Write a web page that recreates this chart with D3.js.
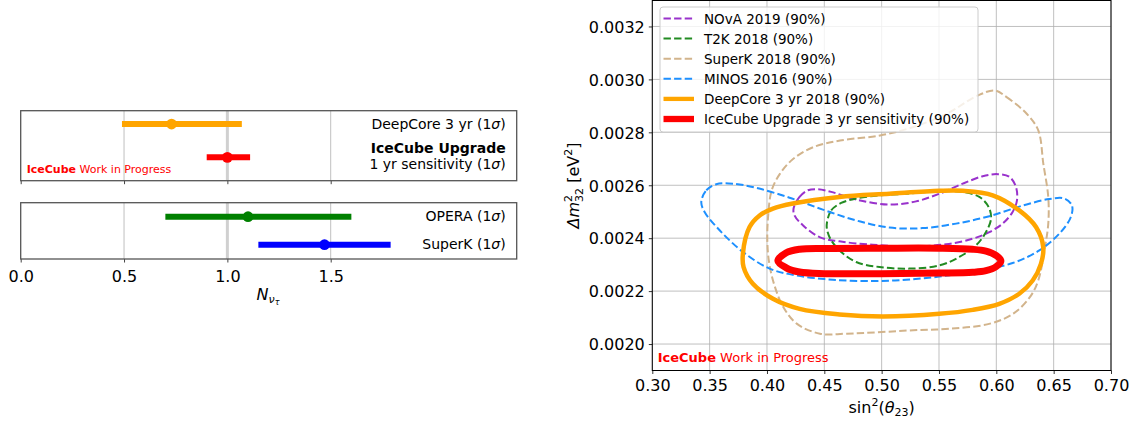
<!DOCTYPE html>
<html>
<head>
<meta charset="utf-8">
<script src="https://cdn.jsdelivr.net/npm/d3@7"></script>
<style>
  body { margin: 0; background: #fff; }
  svg { font-family: "DejaVu Sans", sans-serif; }
</style>
</head>
<body>
<svg id="chart" width="1142" height="423"></svg>
<script>
// ---- left panel : N_nutau measurements (1 sigma)
var nutauPanel   = [0, 0, 1, 1];                 // 0 = top box, 1 = bottom box
var nutauRow     = [0, 1, 0, 1];
var nutauCentral = [0.73, 1.00, 1.10, 1.47];
var nutauLow     = [0.49, 0.90, 0.70, 1.15];
var nutauHigh    = [1.07, 1.11, 1.60, 1.79];
var nutauColors  = ["#ffa500", "#ff0000", "#008000", "#0000ff"];
var nutauTicks   = [0, 0.5, 1.0, 1.5];

// ---- right panel : 90% contours, [sin^2(theta23), dm^2_32]
var nova = [[0.4232,0.002512],[0.4284,0.002556],[0.4357,0.002581],[0.4444,0.002585],[0.4560,0.002575],
  [0.4778,0.002546],[0.5068,0.002527],[0.5300,0.002539],[0.5503,0.002568],[0.5707,0.002606],
  [0.5881,0.002634],[0.6012,0.002642],[0.6113,0.002632],[0.6171,0.002594],[0.6180,0.002543],
  [0.6142,0.002499],[0.6055,0.002455],[0.5939,0.002423],[0.5794,0.002398],[0.5562,0.002377],
  [0.5271,0.002369],[0.4923,0.002375],[0.4632,0.002388],[0.4458,0.002404],[0.4313,0.002449],[0.4240,0.002486]];
var t2k = [[0.4522,0.002455],[0.4560,0.002505],[0.4647,0.002533],[0.4778,0.002550],[0.4981,0.002562],
  [0.5213,0.002568],[0.5503,0.002577],[0.5707,0.002575],[0.5852,0.002556],[0.5933,0.002518],
  [0.5954,0.002474],[0.5910,0.002423],[0.5823,0.002373],[0.5678,0.002329],[0.5503,0.002297],
  [0.5242,0.002285],[0.4981,0.002291],[0.4778,0.002310],[0.4647,0.002348],[0.4560,0.002392],[0.4525,0.002430]];
var superk = [[0.5988,0.002958],[0.6090,0.002933],[0.6265,0.002870],[0.6366,0.002807],[0.6410,0.002681],
  [0.6453,0.002555],[0.6453,0.002455],[0.6424,0.002366],[0.6366,0.002241],[0.6294,0.002178],
  [0.6148,0.002115],[0.5945,0.002077],[0.5596,0.002058],[0.5276,0.002052],[0.4695,0.002039],
  [0.4462,0.002039],[0.4259,0.002077],[0.4142,0.002140],[0.4070,0.002215],[0.4020,0.002304],
  [0.4003,0.002392],[0.4012,0.002493],[0.4041,0.002581],[0.4114,0.002644],[0.4230,0.002700],
  [0.4404,0.002744],[0.4637,0.002769],[0.4986,0.002788],[0.5276,0.002820],[0.5567,0.002870],[0.5838,0.002939]];
var minos = [[0.3427,0.002537],[0.3471,0.002581],[0.3558,0.002604],[0.3703,0.002606],[0.3907,0.002590],
  [0.4197,0.002553],[0.4487,0.002508],[0.4778,0.002467],[0.5068,0.002440],[0.5358,0.002438],
  [0.5649,0.002455],[0.5939,0.002483],[0.6229,0.002523],[0.6462,0.002548],[0.6592,0.002550],
  [0.6659,0.002524],[0.6650,0.002480],[0.6549,0.002417],[0.6375,0.002354],[0.6142,0.002306],
  [0.5794,0.002274],[0.5503,0.002255],[0.5213,0.002243],[0.4923,0.002238],[0.4574,0.002243],
  [0.4255,0.002259],[0.4023,0.002285],[0.3790,0.002348],[0.3587,0.002430],[0.3456,0.002499]];
var deepcore = [[0.3790,0.002341],[0.3848,0.002442],[0.3936,0.002486],[0.4052,0.002512],[0.4226,0.002531],
  [0.4632,0.002556],[0.5068,0.002568],[0.5503,0.002579],[0.5707,0.002579],[0.5968,0.002562],
  [0.6200,0.002505],[0.6346,0.002442],[0.6409,0.002367],[0.6389,0.002303],[0.6317,0.002240],
  [0.6200,0.002190],[0.6026,0.002152],[0.5794,0.002129],[0.5503,0.002114],[0.5010,0.002104],
  [0.4632,0.002112],[0.4284,0.002133],[0.4052,0.002171],[0.3877,0.002228],[0.3796,0.002291]];
var upgrade = [[0.4095,0.002314],[0.4168,0.002345],[0.4284,0.002358],[0.4500,0.002361],[0.5000,0.002362],
  [0.5500,0.002362],[0.5794,0.002358],[0.5910,0.002351],[0.5997,0.002335],[0.6040,0.002314],
  [0.5997,0.002292],[0.5910,0.002277],[0.5794,0.002271],[0.5500,0.002268],[0.5000,0.002266],
  [0.4500,0.002266],[0.4284,0.002272],[0.4168,0.002288]];

var contourNames  = ["NOvA 2019 (90%)", "T2K 2018 (90%)", "SuperK 2018 (90%)", "MINOS 2016 (90%)",
                     "DeepCore 3 yr 2018 (90%)", "IceCube Upgrade 3 yr sensitivity (90%)"];
var contourData   = [nova, t2k, superk, minos, deepcore, upgrade];
var contourColors = ["#9932cc", "#228b22", "#d2b48c", "#1e90ff", "#ffa500", "#ff0000"];
var contourDashed = [true, true, true, true, false, false];
var contourWidth  = [2, 2, 2, 2, 4.5, 7];
var legendWidth   = [2, 2, 2, 2, 4.3, 6.3];
var s2Ticks = [0.30, 0.35, 0.40, 0.45, 0.50, 0.55, 0.60, 0.65, 0.70];
var dmTicks = [0.0020, 0.0022, 0.0024, 0.0026, 0.0028, 0.0030, 0.0032];

var svg = d3.select("#chart");

// ================= left panel =================
var xL = d3.scaleLinear().domain([0, 2.4]).range([20.7, 516.7]);
var boxes = [
  { top: 110.7, bottom: 180.7, y: d3.scaleLinear().domain([-0.4, 1.7]).range([110.7, 180.7]) },
  { top: 202.7, bottom: 259,   y: d3.scaleLinear().domain([-0.5, 1.51]).range([202.7, 259]) }
];

boxes.forEach(function (b, bi) {
  var g = svg.append("g");
  // grid
  g.selectAll("line.grid").data(nutauTicks.slice(1)).enter().append("line")
    .attr("x1", d => xL(d)).attr("x2", d => xL(d))
    .attr("y1", b.top).attr("y2", b.bottom)
    .attr("stroke", "#b0b0b0").attr("stroke-width", 0.8);
  // reference line at 1
  g.append("line")
    .attr("x1", xL(1)).attr("x2", xL(1)).attr("y1", b.top).attr("y2", b.bottom)
    .attr("stroke", "#d0d0d0").attr("stroke-width", 3);

  var ax = d3.axisBottom(xL).tickValues(nutauTicks).tickSize(3.5).tickPadding(4)
    .tickFormat(bi === 1 ? d3.format(".1f") : "");
  var ag = g.append("g").attr("transform", "translate(0," + b.bottom + ")").call(ax);
  ag.select(".domain").remove();
  ag.selectAll("line").attr("stroke", "#444").attr("stroke-width", 1);
  ag.selectAll("text").attr("font-size", 16).attr("fill", "#000")
    .attr("font-family", "DejaVu Sans").attr("dy", null).attr("y", 23);

  g.append("rect")
    .attr("x", xL(0)).attr("y", b.top).attr("width", xL(2.4) - xL(0)).attr("height", b.bottom - b.top)
    .attr("fill", "none").attr("stroke", "#555").attr("stroke-width", 1.3);
});

// error bars
nutauCentral.forEach(function (c, i) {
  var yy = boxes[nutauPanel[i]].y(nutauRow[i]);
  svg.append("line")
    .attr("x1", xL(nutauLow[i])).attr("x2", xL(nutauHigh[i]))
    .attr("y1", yy).attr("y2", yy)
    .attr("stroke", nutauColors[i]).attr("stroke-width", 6);
  svg.append("circle").attr("cx", xL(c)).attr("cy", yy).attr("r", 5.4).attr("fill", nutauColors[i]);
});

// labels on the right of each box
function sigmaLabel(sel, name) {
  sel.append("tspan").text(name + " (1");
  sel.append("tspan").attr("font-style", "italic").text("σ");
  sel.append("tspan").text(")");
}
var labX = 505.7;
var t;
t = svg.append("text").attr("x", labX).attr("y", boxes[0].y(0) + 4.5)
  .attr("text-anchor", "end").attr("font-size", 14);
sigmaLabel(t, "DeepCore 3 yr");
svg.append("text").attr("x", labX).attr("y", boxes[0].y(1) - 4)
  .attr("text-anchor", "end").attr("font-size", 14).attr("font-weight", "bold")
  .text("IceCube Upgrade");
t = svg.append("text").attr("x", labX).attr("y", boxes[0].y(1) + 12)
  .attr("text-anchor", "end").attr("font-size", 14);
sigmaLabel(t, "1 yr sensitivity");
t = svg.append("text").attr("x", labX).attr("y", boxes[1].y(0) + 4.3)
  .attr("text-anchor", "end").attr("font-size", 14);
sigmaLabel(t, "OPERA");
t = svg.append("text").attr("x", labX).attr("y", boxes[1].y(1) + 4)
  .attr("text-anchor", "end").attr("font-size", 14);
sigmaLabel(t, "SuperK");

// IceCube work in progress (left)
t = svg.append("text").attr("x", 26.7).attr("y", 173.3).attr("font-size", 11).attr("fill", "#ff0000");
t.append("tspan").attr("font-weight", "bold").text("IceCube");
t.append("tspan").text(" Work in Progress");

// x label N_nutau
t = svg.append("text").attr("x", 268).attr("y", 300).attr("text-anchor", "middle").attr("font-size", 16);
t.append("tspan").attr("font-style", "italic").text("N");
t.append("tspan").attr("font-style", "italic").attr("font-size", 11).attr("dy", 3).text("ν");
t.append("tspan").attr("font-style", "italic").attr("font-size", 8).attr("dy", 2).text("τ");

// ================= right panel =================
var xR = d3.scaleLinear().domain([0.3, 0.7]).range([652.3, 1111]);
var yR = d3.scaleLinear().domain([0.0019, 0.0033]).range([370.5, 0]);
var pTop = 0.5, pBot = yR(0.0019);

var defs = svg.append("defs");
defs.append("clipPath").attr("id", "plotclip").append("rect")
  .attr("x", xR(0.3)).attr("y", pTop).attr("width", xR(0.7) - xR(0.3)).attr("height", pBot - pTop);

var gr = svg.append("g");
gr.selectAll("line.vg").data(s2Ticks).enter().append("line")
  .attr("x1", d => xR(d)).attr("x2", d => xR(d)).attr("y1", pTop).attr("y2", pBot)
  .attr("stroke", "#b0b0b0").attr("stroke-width", 0.8);
gr.selectAll("line.hg").data(dmTicks).enter().append("line")
  .attr("x1", xR(0.3)).attr("x2", xR(0.7)).attr("y1", d => yR(d)).attr("y2", d => yR(d))
  .attr("stroke", "#b0b0b0").attr("stroke-width", 0.8);

var line = d3.line().x(d => xR(d[0])).y(d => yR(d[1])).curve(d3.curveCatmullRomClosed.alpha(0.5));
var cg = svg.append("g").attr("clip-path", "url(#plotclip)");
contourData.forEach(function (pts, i) {
  cg.append("path").datum(pts).attr("d", line)
    .attr("fill", "none").attr("stroke", contourColors[i]).attr("stroke-width", contourWidth[i])
    .attr("stroke-dasharray", contourDashed[i] ? "7.4,3.2" : null)
    .attr("stroke-linejoin", "round");
});

// axes
var xa = svg.append("g").attr("transform", "translate(0," + pBot + ")")
  .call(d3.axisBottom(xR).tickValues(s2Ticks).tickFormat(d3.format(".2f")).tickSize(3.5).tickPadding(4));
var ya = svg.append("g").attr("transform", "translate(" + xR(0.3) + ",0)")
  .call(d3.axisLeft(yR).tickValues(dmTicks).tickFormat(d3.format(".4f")).tickSize(3.5).tickPadding(4));
[xa, ya].forEach(function (a) {
  a.select(".domain").remove();
  a.selectAll("line").attr("stroke", "#000").attr("stroke-width", 0.8);
  a.selectAll("text").attr("font-size", 16).attr("font-family", "DejaVu Sans").attr("fill", "#000");
});
xa.selectAll("text").attr("dy", null).attr("y", 20.2);
ya.selectAll("text").attr("dy", "0.36em");

svg.append("rect")
  .attr("x", xR(0.3)).attr("y", pTop).attr("width", xR(0.7) - xR(0.3)).attr("height", pBot - pTop)
  .attr("fill", "none").attr("stroke", "#000").attr("stroke-width", 1);

// axis titles
t = svg.append("text").attr("x", xR(0.5)).attr("y", 413).attr("text-anchor", "middle").attr("font-size", 16);
t.append("tspan").text("sin");
t.append("tspan").attr("font-size", 11).attr("dy", -7).text("2");
t.append("tspan").attr("dy", 7).text("(");
t.append("tspan").attr("font-style", "italic").text("θ");
t.append("tspan").attr("font-size", 11).attr("dy", 3).text("23");
t.append("tspan").attr("dy", -3).text(")");

t = svg.append("text").attr("transform", "translate(579," + ((pTop + pBot) / 2) + ") rotate(-90)")
  .attr("text-anchor", "middle").attr("font-size", 16);
t.append("tspan").attr("font-style", "italic").text("Δm");
t.append("tspan").attr("font-size", 11).attr("dy", -7).text("2");
t.append("tspan").attr("font-size", 11).attr("dx", -7).attr("dy", 11).text("32");
t.append("tspan").attr("dy", -4).text(" [eV");
t.append("tspan").attr("font-size", 11).attr("dy", -7).text("2");
t.append("tspan").attr("dy", 7).text("]");

// IceCube work in progress (right)
t = svg.append("text").attr("x", 657.7).attr("y", 361.7).attr("font-size", 13).attr("fill", "#ff0000");
t.append("tspan").attr("font-weight", "bold").text("IceCube");
t.append("tspan").text(" Work in Progress");

// legend
var lg = svg.append("g");
lg.append("rect").attr("x", 660).attr("y", 7).attr("width", 318).attr("height", 125).attr("rx", 3)
  .attr("fill", "#fff").attr("fill-opacity", 0.8).attr("stroke", "#cccccc").attr("stroke-width", 1);
contourNames.forEach(function (name, i) {
  var cy = 18.5 + i * 20.1;
  lg.append("line").attr("x1", 663.5).attr("x2", 694).attr("y1", cy).attr("y2", cy)
    .attr("stroke", contourColors[i]).attr("stroke-width", legendWidth[i])
    .attr("stroke-dasharray", contourDashed[i] ? "7.4,3.2" : null);
  lg.append("text").attr("x", 704).attr("y", cy + 5).attr("font-size", 13.5).text(name);
});
</script>
</body>
</html>
